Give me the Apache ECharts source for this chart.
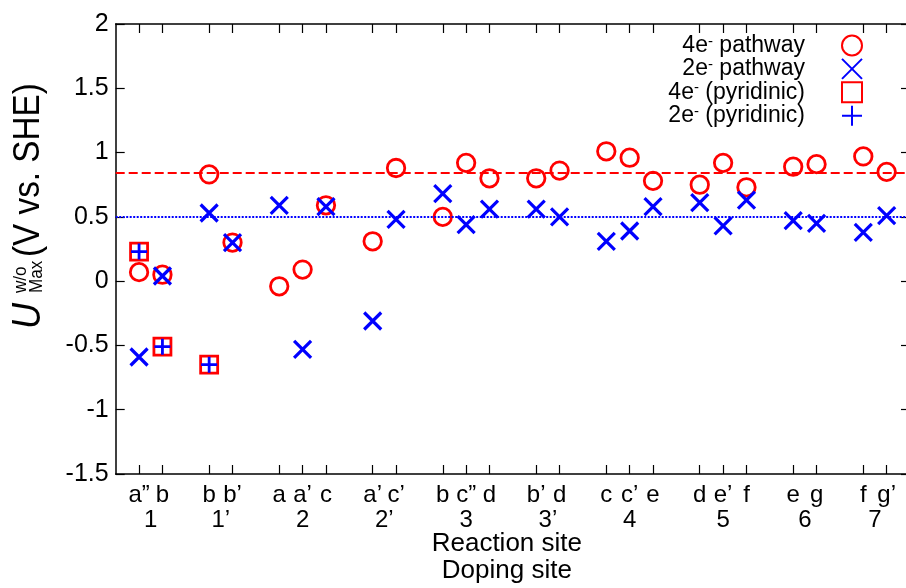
<!DOCTYPE html>
<html><head><meta charset="utf-8">
<script src="https://cdn.jsdelivr.net/npm/echarts@6/dist/echarts.min.js"></script>
<style>html,body{margin:0;padding:0;background:#fff}#c{width:906px;height:588px}</style>
</head><body><div id="c"></div>
<script>
// positions of reaction sites on the x scale
const sitePos = [1,2,4,5,7,8,9,11,12,14,15,16,18,19,21,22,23,25,26,27,29,30,32,33];
const reactionSites = ['a\u201d','b','b','b\u2019','a','a\u2019','c','a\u2019','c\u2019','b','c\u201d','d','b\u2019','d','c','c\u2019','e','d','e\u2019','f','e','g','f','g\u2019'];
const dopingPos = [1.5,4.5,8,11.5,15,18.5,22,26,29.5,32.5];
const dopingSites = ['1','1\u2019','2','2\u2019','3','3\u2019','4','5','6','7'];
const path4e = [0.07,0.05,0.83,0.30,-0.04,0.09,0.59,0.31,0.88,0.50,0.92,0.80,0.80,0.86,1.01,0.96,0.78,0.75,0.92,0.73,0.89,0.91,0.97,0.85];
const path2e = [-0.59,0.04,0.53,0.30,0.59,-0.53,0.58,-0.31,0.48,0.68,0.44,0.56,0.56,0.50,0.31,0.39,0.58,0.61,0.43,0.63,0.47,0.45,0.38,0.51];
const pyrPos = [1,2,4];
const pyr4e = [0.23,-0.51,-0.65];
const pyr2e = [0.23,-0.51,-0.65];
const ref4e = 0.84;
const ref2e = 0.50;
const seriesNames = ['4e- pathway','2e- pathway','4e- (pyridinic)','2e- (pyridinic)'];
const legendRich = ['{n|4e}{s|-}{n| pathway}{g|}','{n|2e}{s|-}{n| pathway}{g|}','{n|4e}{s|-}{n| (pyridinic)}{g|}','{n|2e}{s|-}{n| (pyridinic)}{g|}'];

const FONT = '"Liberation Sans", Arial, Helvetica, sans-serif';
const chart = echarts.init(document.getElementById('c'), null, {renderer:'canvas'});
function pairs(xs, ys){ return xs.map((x,i)=>[x, ys[i]]); }
const X_PATH = 'path://M0,0L20,20M20,0L0,20';
const PLUS_PATH = 'path://M10,0L10,20M0,10L20,10';
const axisLineStyle = {color:'#000', width:1.5};
const tickStyle = {color:'#000', width:1.2};

const option = {
  animation:false,
  backgroundColor:'#fff',
  grid:{left:115.7, top:24, width:794.3, height:450, outerBoundsMode:'none', containLabel:false},
  xAxis:[
    {type:'value', min:0, max:34, position:'bottom',
     axisLine:{show:true, onZero:false, lineStyle:axisLineStyle},
     axisTick:{show:true, inside:true, length:9, customValues:sitePos, lineStyle:tickStyle},
     axisLabel:{customValues:sitePos, formatter:(v)=>reactionSites[sitePos.indexOf(v)], fontSize:24, color:'#000', fontFamily:FONT, margin:9},
     splitLine:{show:false}},
    {type:'value', min:0, max:34, position:'bottom', offset:25,
     axisLine:{show:false}, axisTick:{show:false},
     axisLabel:{customValues:dopingPos, formatter:(v)=>dopingSites[dopingPos.indexOf(v)], fontSize:24, color:'#000', fontFamily:FONT, margin:9},
     splitLine:{show:false},
     name:'Reaction site\nDoping site', nameLocation:'middle', nameGap:31.5, nameMoveOverlap:false,
     nameTextStyle:{fontSize:26, lineHeight:27, color:'#000', fontFamily:FONT, padding:[0,12,0,0]}},
    {type:'value', min:0, max:34, position:'top',
     axisLine:{show:true, onZero:false, lineStyle:axisLineStyle},
     axisTick:{show:true, inside:true, length:9, customValues:sitePos, lineStyle:tickStyle},
     axisLabel:{show:false}, splitLine:{show:false}}
  ],
  yAxis:[
    {type:'value', min:-1.5, max:2, interval:0.5, position:'left',
     axisLine:{show:true, onZero:false, lineStyle:axisLineStyle},
     axisTick:{show:true, inside:true, length:9, lineStyle:tickStyle},
     axisLabel:{fontSize:25, color:'#000', fontFamily:FONT, margin:7},
     splitLine:{show:false}},
    {type:'value', min:-1.5, max:2, interval:0.5, position:'right',
     axisLine:{show:true, onZero:false, lineStyle:axisLineStyle},
     axisTick:{show:true, inside:true, length:9, lineStyle:tickStyle},
     axisLabel:{show:false}, splitLine:{show:false}}
  ],
  legend:{
    orient:'vertical', right:43, top:34, align:'right', padding:0,
    itemWidth:20, itemHeight:20, itemGap:0.4, selectedMode:false,
    data:seriesNames,
    formatter:(name)=>legendRich[seriesNames.indexOf(name)],
    textStyle:{color:'#000', fontFamily:FONT, fontSize:23,
      rich:{
        n:{fontSize:23, fontFamily:FONT, color:'#000', lineHeight:20},
        s:{fontSize:15, fontFamily:FONT, color:'#000', lineHeight:8, verticalAlign:'top'},
        g:{width:32}
      }}
  },
  graphic:[{
    type:'group', x:29, y:329, rotation:Math.PI/2, scaleX:0.9,
    children:[
      {type:'text', x:0, y:0, style:{text:'U', font:'italic 40px "Liberation Sans", Arial, sans-serif', fill:'#000', textAlign:'left', textVerticalAlign:'middle', align:'left', verticalAlign:'middle'}},
      {type:'text', x:40, y:-8, style:{text:'w/o', font:'19px "Liberation Sans", Arial, sans-serif', fill:'#000', textAlign:'left', textVerticalAlign:'middle', align:'left', verticalAlign:'middle'}},
      {type:'text', x:40, y:8, style:{text:'Max', font:'19px "Liberation Sans", Arial, sans-serif', fill:'#000', textAlign:'left', textVerticalAlign:'middle', align:'left', verticalAlign:'middle'}},
      {type:'text', x:80, y:0, style:{text:'(V vs. SHE)', font:'37px "Liberation Sans", Arial, sans-serif', fill:'#000', textAlign:'left', textVerticalAlign:'middle', align:'left', verticalAlign:'middle'}}
    ]
  }],
  series:[
    {name:seriesNames[0], type:'scatter', data:pairs(sitePos, path4e), symbol:'circle', symbolSize:17.5,
     itemStyle:{color:'rgba(0,0,0,0)', borderColor:'#ff0000', borderWidth:2.8, opacity:1}, emphasis:{disabled:true},
     markLine:{silent:true, symbol:['none','none'], label:{show:false}, animation:false,
       lineStyle:{color:'#ff0000', type:[9,4], width:2, opacity:1}, emphasis:{disabled:true}, data:[{yAxis:ref4e}]}},
    {name:seriesNames[1], type:'scatter', data:pairs(sitePos, path2e), symbol:X_PATH, symbolSize:17,
     itemStyle:{color:'rgba(0,0,0,0)', borderColor:'#0000ff', borderWidth:3.2, opacity:1}, emphasis:{disabled:true},
     markLine:{silent:true, symbol:['none','none'], label:{show:false}, animation:false,
       lineStyle:{color:'#0000ff', type:[2,1.5], width:2, opacity:1}, emphasis:{disabled:true}, data:[{yAxis:ref2e}]}},
    {name:seriesNames[2], type:'scatter', data:pairs(pyrPos, pyr4e), symbol:'rect', symbolSize:17,
     itemStyle:{color:'rgba(0,0,0,0)', borderColor:'#ff0000', borderWidth:2.8, opacity:1}, emphasis:{disabled:true}},
    {name:seriesNames[3], type:'scatter', data:pairs(pyrPos, pyr2e), symbol:PLUS_PATH, symbolSize:16,
     itemStyle:{color:'rgba(0,0,0,0)', borderColor:'#0000ff', borderWidth:2.8, opacity:1}, emphasis:{disabled:true}}
  ]
};
chart.setOption(option);
</script></body></html>
